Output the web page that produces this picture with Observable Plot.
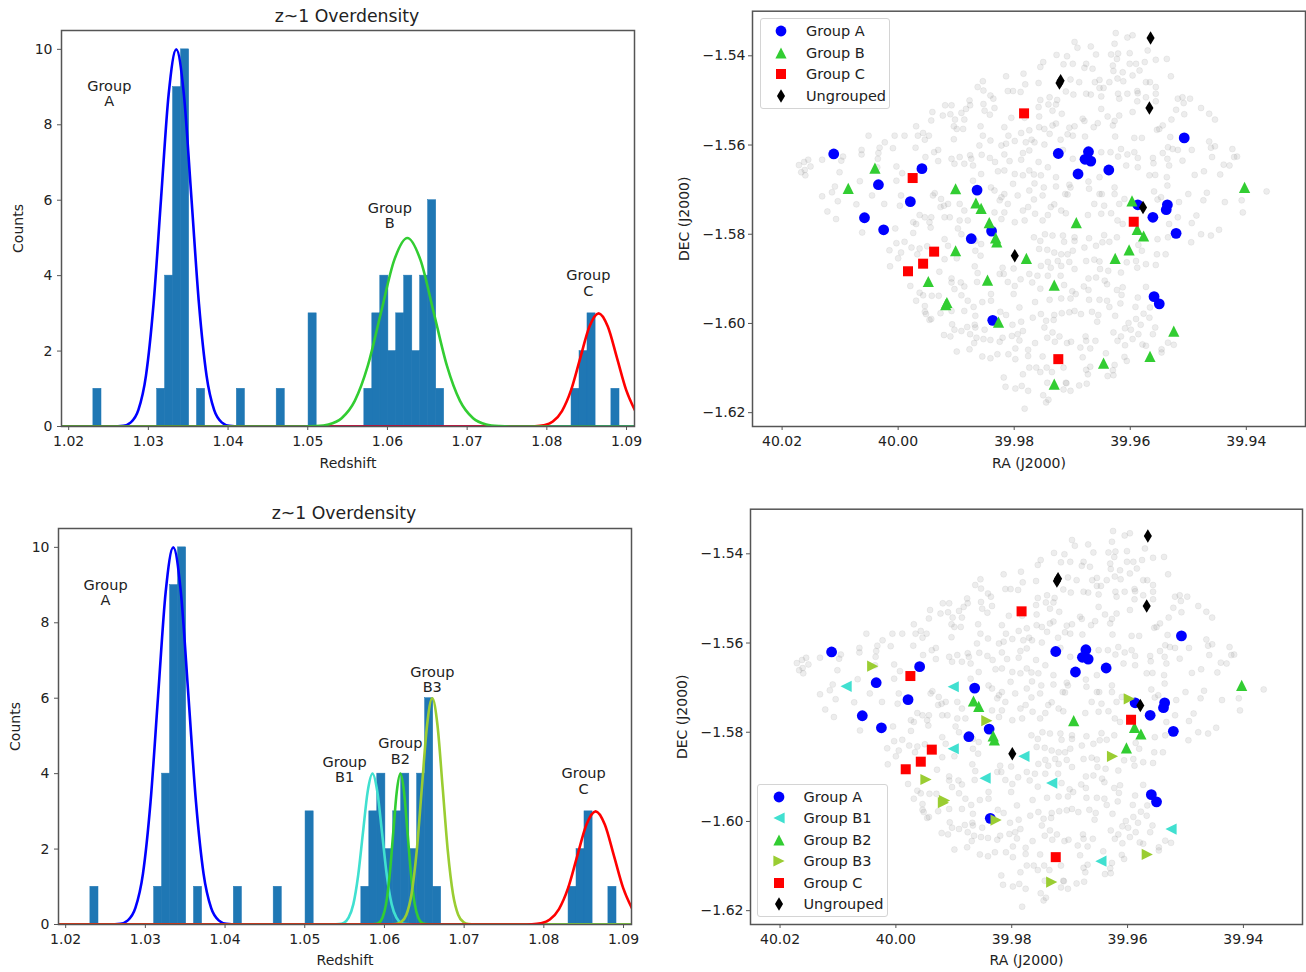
<!DOCTYPE html>
<html><head><meta charset="utf-8">
<script src="https://cdn.jsdelivr.net/npm/d3@7"></script>
<script src="https://cdn.jsdelivr.net/npm/@observablehq/plot@0.6"></script>
<style>
html,body{margin:0;padding:0;background:#fff}
#page{position:relative;width:1306px;height:972px;overflow:hidden;font-family:"DejaVu Sans",sans-serif;color:#222}
#page>svg,.abs{position:absolute}
.title{font-size:17.3px;transform:translate(-50%,-50%);white-space:nowrap}
.legend{background:rgba(255,255,255,.85);border:1px solid #d4d4d4;border-radius:3px;box-sizing:border-box}
.legend div{position:absolute;font-size:14.5px;line-height:1;white-space:nowrap;transform:translateY(-50%)}
.legend svg{position:absolute;overflow:visible;width:1px;height:1px}
</style></head><body><div id="page"></div>
<script>
// Histogram of redshifts
const binStarts=[1.0231,1.0311,1.0321,1.0331,1.0341,1.0361,1.0411,1.0461,1.0501,1.0571,1.0581,1.0591,1.0601,1.0611,1.0621,1.0631,1.0641,1.0651,1.0661,1.0831,1.0841,1.0851,1.0881];
const binCounts=[1,1,4,9,10,1,1,1,3,1,3,4,2,3,4,2,4,6,1,1,2,3,1];
const binWidth=0.00102;
const zTicks=[1.02,1.03,1.04,1.05,1.06,1.07,1.08,1.09];
const countTicks=[0,2,4,6,8,10];
// Fitted curves
const curveAx=[1.0191,1.0255,1.02685,1.0278,1.02875,1.0297,1.03065,1.0316,1.03255,1.0335,1.03445,1.0354,1.03635,1.0373,1.03825,1.0392,1.04015,1.0415,1.091];
const curveAy=[0,0,.02,.11,.44,1.35,3.25,6.07,8.82,10,8.82,6.07,3.25,1.35,.44,.11,.02,0,0];
const curveBx=[1.0191,1.0496,1.05095,1.0526,1.05425,1.0559,1.05755,1.0592,1.06085,1.0625,1.06415,1.0658,1.06745,1.0691,1.07075,1.0724,1.07405,1.0754,1.091];
const curveBy=[0,0,.01,.055,.22,.68,1.62,3.03,4.41,5,4.41,3.03,1.62,.68,.22,.055,.01,0,0];
const curveCx=[1.0191,1.0772,1.0785,1.0796,1.08075,1.0819,1.08305,1.0842,1.08535,1.0865,1.08765,1.0888,1.08995,1.0911];
const curveCy=[0,0,.007,.033,.13,.41,.97,1.82,2.65,3,2.65,1.82,.97,.41];
const curveB1x=[1.0191,1.0535,1.0543,1.0549,1.0555,1.0561,1.0567,1.0573,1.0579,1.0585,1.0591,1.0597,1.0603,1.0609,1.0615,1.0621,1.0627,1.0635,1.091];
const curveB1y=[0,0,.009,.044,.18,.54,1.3,2.43,3.53,4,3.53,2.43,1.3,.54,.18,.044,.009,0,0];
const curveB2x=[1.0191,1.0582,1.05885,1.0593,1.05975,1.0602,1.06065,1.0611,1.06155,1.062,1.06245,1.0629,1.06335,1.0638,1.06425,1.0647,1.06515,1.0658,1.091];
const curveB2y=[0,0,.009,.044,.18,.54,1.3,2.43,3.53,4,3.53,2.43,1.3,.54,.18,.044,.009,0,0];
const curveB3x=[1.0191,1.0607,1.06145,1.0621,1.06275,1.0634,1.06405,1.0647,1.06535,1.066,1.06665,1.0673,1.06795,1.0686,1.06925,1.0699,1.07055,1.0714,1.091];
const curveB3y=[0,0,.013,.067,.26,.81,1.95,3.64,5.29,6,5.29,3.64,1.95,.81,.26,.067,.013,0,0];
// Group labels on the histograms
const labelsTop=[["Group\nA",1.0251,8.82],["Group\nB",1.0603,5.6],["Group\nC",1.0852,3.8]];
const labelsBottom=[["Group\nA",1.025,8.81],["Group\nB1",1.055,4.1],["Group\nB2",1.062,4.6],["Group\nB3",1.066,6.5],["Group\nC",1.085,3.8]];
// Sky positions [RA, DEC]
const groupA=[[40.0111,-1.5620],[40.0034,-1.5689],[39.9979,-1.5727],[39.9959,-1.5653],[40.0058,-1.5763],[40.0025,-1.5790],[39.9864,-1.5701],[39.9874,-1.5810],[39.9839,-1.5793],[39.9837,-1.5993],[39.9724,-1.5619],[39.9672,-1.5615],[39.9678,-1.5632],[39.9668,-1.5636],[39.9690,-1.5665],[39.9637,-1.5656],[39.9587,-1.5734],[39.9561,-1.5762],[39.9536,-1.5734],[39.9538,-1.5745],[39.9521,-1.5798],[39.9507,-1.5584],[39.9559,-1.5940],[39.9550,-1.5956]];
const groupB1=[[40.0086,-1.5697],[39.9901,-1.5698],[39.9901,-1.5837],[39.9779,-1.5854],[39.9846,-1.5903],[39.9731,-1.5914],[39.9646,-1.6089],[39.9525,-1.6017]];
const groupB2=[[39.9866,-1.5730],[39.9857,-1.5742],[39.9832,-1.5808],[39.9830,-1.5817],[39.9693,-1.5774],[39.9602,-1.5835],[39.9588,-1.5789],[39.9577,-1.5804],[39.9403,-1.5695]];
const groupB3=[[40.0040,-1.5652],[39.9843,-1.5774],[39.9948,-1.5906],[39.9916,-1.5953],[39.9918,-1.5958],[39.9827,-1.5997],[39.9731,-1.6136],[39.9566,-1.6074],[39.9626,-1.5854],[39.9597,-1.5725]];
const groupC=[[39.9783,-1.5529],[39.9975,-1.5674],[39.9938,-1.5839],[39.9957,-1.5866],[39.9983,-1.5883],[39.9594,-1.5772],[39.9724,-1.6080]];
const ungrouped=[[39.9565,-1.5360],[39.9722,-1.5461],[39.9720,-1.5456],[39.9567,-1.5517],[39.9578,-1.5740],[39.9799,-1.5848]];
const bgNW=[[39.9814,-1.5446],[39.9784,-1.5440],[39.9781,-1.5464],[39.9854,-1.5457],[39.9863,-1.5470],[39.9853,-1.5478],[39.9811,-1.5479],[39.9802,-1.5479],[39.9789,-1.5481],[39.9841,-1.5489],[39.9836,-1.5496],[39.9853,-1.5508],[39.9834,-1.5517],[39.9851,-1.5523],[39.9842,-1.5532],[39.9877,-1.5500],[39.9876,-1.5511],[39.9883,-1.5519],[39.9891,-1.5528],[39.9919,-1.5511],[39.9908,-1.5511],[39.9941,-1.5526],[39.9923,-1.5534],[39.9910,-1.5531],[39.9902,-1.5543],[39.9886,-1.5543],[39.9943,-1.5545],[39.9969,-1.5558],[39.9904,-1.5558],[39.9899,-1.5564],[39.9888,-1.5564],[39.9858,-1.5558],[39.9817,-1.5560],[39.9805,-1.5539],[39.9782,-1.5539],[40.0006,-1.5579],[39.9989,-1.5579],[39.9957,-1.5573],[39.9966,-1.5579],[39.9947,-1.5579],[40.0051,-1.5579],[39.9954,-1.5588],[39.9904,-1.5587],[39.9854,-1.5579],[39.9841,-1.5590],[39.9810,-1.5579],[39.9788,-1.5573],[39.9774,-1.5567],[40.0023,-1.5594],[40.0032,-1.5606],[40.0009,-1.5607],[39.9970,-1.5606],[39.9860,-1.5601],[39.9822,-1.5601],[39.9814,-1.5597],[39.9799,-1.5591],[39.9780,-1.5594],[40.0063,-1.5611],[40.0034,-1.5618],[39.9931,-1.5611],[39.9938,-1.5616],[40.0063,-1.5621],[39.9876,-1.5623],[39.9856,-1.5622],[39.9817,-1.5621],[39.9785,-1.5618],[39.9774,-1.5612],[40.0035,-1.5631],[39.9953,-1.5627],[39.9908,-1.5631],[39.9894,-1.5627],[39.9874,-1.5631],[39.9842,-1.5629],[39.9833,-1.5638],[39.9808,-1.5636],[39.9788,-1.5633],[40.0155,-1.5633],[40.0162,-1.5638],[40.0131,-1.5633],[40.0098,-1.5635],[40.0095,-1.5626],[40.0171,-1.5645],[40.0151,-1.5648],[40.0161,-1.5656],[40.0167,-1.5661],[40.0160,-1.5668],[40.0101,-1.5661],[40.0036,-1.5650],[40.0003,-1.5648],[39.9993,-1.5663],[39.9931,-1.5636],[39.9903,-1.5642],[39.9886,-1.5642],[39.9871,-1.5646],[39.9857,-1.5665],[39.9828,-1.5659],[39.9817,-1.5657],[39.9799,-1.5665],[39.9785,-1.5668],[39.9774,-1.5657],[40.0066,-1.5681],[40.0109,-1.5693],[40.0114,-1.5706],[40.0131,-1.5715],[40.0104,-1.5726],[40.0122,-1.5749],[40.0072,-1.5733],[40.0107,-1.5766],[40.0045,-1.5713],[40.0024,-1.5732],[40.0003,-1.5680],[39.9995,-1.5713],[39.9997,-1.5736],[39.9937,-1.5708],[39.9940,-1.5713],[39.9926,-1.5721],[39.9921,-1.5736],[39.9927,-1.5739],[39.9963,-1.5757],[39.9954,-1.5762],[39.9946,-1.5773],[39.9974,-1.5773],[39.9969,-1.5777],[39.9943,-1.5762],[39.9920,-1.5762],[39.9911,-1.5762],[39.9894,-1.5732],[39.9886,-1.5747],[39.9894,-1.5769],[39.9880,-1.5769],[39.9834,-1.5702],[39.9817,-1.5710],[39.9802,-1.5687],[39.9794,-1.5713],[39.9811,-1.5732],[39.9825,-1.5724],[39.9822,-1.5717],[39.9785,-1.5747],[39.9776,-1.5739],[39.9782,-1.5769],[39.9817,-1.5751],[39.9822,-1.5766],[39.9834,-1.5751],[39.9799,-1.5773],[39.9774,-1.5702],[39.9871,-1.5680],[39.9840,-1.5695],[39.9914,-1.5732]];
const bgNE=[[39.9625,-1.5349],[39.9596,-1.5354],[39.9605,-1.5359],[39.9696,-1.5369],[39.9691,-1.5382],[39.9668,-1.5379],[39.9659,-1.5397],[39.9727,-1.5398],[39.9709,-1.5401],[39.9627,-1.5373],[39.9621,-1.5395],[39.9623,-1.5407],[39.9570,-1.5388],[39.9601,-1.5394],[39.9633,-1.5397],[39.9556,-1.5409],[39.9537,-1.5407],[39.9575,-1.5414],[39.9630,-1.5422],[39.9590,-1.5418],[39.9601,-1.5418],[39.9699,-1.5418],[39.9715,-1.5419],[39.9676,-1.5418],[39.9679,-1.5427],[39.9665,-1.5429],[39.9750,-1.5414],[39.9755,-1.5425],[39.9629,-1.5434],[39.9613,-1.5437],[39.9584,-1.5433],[39.9596,-1.5444],[39.9530,-1.5446],[39.9758,-1.5461],[39.9703,-1.5453],[39.9688,-1.5459],[39.9653,-1.5454],[39.9661,-1.5459],[39.9622,-1.5451],[39.9612,-1.5457],[39.9573,-1.5459],[39.9566,-1.5459],[39.9653,-1.5472],[39.9646,-1.5472],[39.9636,-1.5459],[39.9556,-1.5470],[39.9588,-1.5479],[39.9698,-1.5487],[39.9676,-1.5485],[39.9668,-1.5487],[39.9650,-1.5491],[39.9711,-1.5480],[39.9621,-1.5485],[39.9619,-1.5496],[39.9605,-1.5485],[39.9587,-1.5484],[39.9573,-1.5493],[39.9556,-1.5502],[39.9556,-1.5485],[39.9755,-1.5499],[39.9739,-1.5493],[39.9726,-1.5499],[39.9758,-1.5515],[39.9741,-1.5509],[39.9728,-1.5509],[39.9588,-1.5502],[39.9518,-1.5496],[39.9510,-1.5493],[39.9497,-1.5496],[39.9508,-1.5506],[39.9757,-1.5536],[39.9734,-1.5523],[39.9718,-1.5530],[39.9650,-1.5519],[39.9596,-1.5526],[39.9521,-1.5521],[39.9478,-1.5517],[39.9464,-1.5530],[39.9454,-1.5543],[39.9507,-1.5531],[39.9529,-1.5543],[39.9682,-1.5541],[39.9679,-1.5546],[39.9619,-1.5534],[39.9627,-1.5546],[39.9630,-1.5556],[39.9639,-1.5536],[39.9656,-1.5551],[39.9663,-1.5560],[39.9696,-1.5558],[39.9705,-1.5561],[39.9728,-1.5552],[39.9734,-1.5556],[39.9748,-1.5564],[39.9757,-1.5560],[39.9739,-1.5575],[39.9708,-1.5576],[39.9699,-1.5579],[39.9678,-1.5581],[39.9626,-1.5581],[39.9593,-1.5584],[39.9580,-1.5584],[39.9550,-1.5564],[39.9544,-1.5556],[39.9554,-1.5566],[39.9770,-1.5588],[39.9765,-1.5594],[39.9748,-1.5599],[39.9720,-1.5588],[39.9716,-1.5611],[39.9531,-1.5582],[39.9464,-1.5592],[39.9535,-1.5605],[39.9527,-1.5609],[39.9518,-1.5611],[39.9494,-1.5611],[39.9461,-1.5606],[39.9454,-1.5603],[39.9424,-1.5609],[39.9616,-1.5609],[39.9621,-1.5626],[39.9605,-1.5621],[39.9593,-1.5616],[39.9587,-1.5629],[39.9634,-1.5616],[39.9650,-1.5616],[39.9544,-1.5618],[39.9561,-1.5629],[39.9560,-1.5641],[39.9536,-1.5631],[39.9510,-1.5635],[39.9459,-1.5627],[39.9421,-1.5627],[39.9416,-1.5626],[39.9758,-1.5638],[39.9742,-1.5650],[39.9699,-1.5631],[39.9587,-1.5650],[39.9607,-1.5646],[39.9533,-1.5646],[39.9439,-1.5644],[39.9429,-1.5646],[39.9766,-1.5666],[39.9754,-1.5668],[39.9728,-1.5672],[39.9557,-1.5667],[39.9567,-1.5668],[39.9537,-1.5672],[39.9489,-1.5667],[39.9473,-1.5659],[39.9445,-1.5666],[39.9749,-1.5695],[39.9728,-1.5693],[39.9705,-1.5689],[39.9703,-1.5695],[39.9672,-1.5682],[39.9653,-1.5672],[39.9627,-1.5695],[39.9765,-1.5686],[39.9653,-1.5710],[39.9649,-1.5710],[39.9627,-1.5710],[39.9671,-1.5698],[39.9712,-1.5710],[39.9708,-1.5711],[39.9559,-1.5704],[39.9547,-1.5717],[39.9536,-1.5691],[39.9500,-1.5710],[39.9468,-1.5707],[39.9766,-1.5722],[39.9751,-1.5713],[39.9731,-1.5733],[39.9737,-1.5739],[39.9719,-1.5747],[39.9711,-1.5753],[39.9751,-1.5769],[39.9764,-1.5754],[39.9742,-1.5757],[39.9662,-1.5732],[39.9633,-1.5753],[39.9673,-1.5757],[39.9650,-1.5754],[39.9645,-1.5736],[39.9622,-1.5769],[39.9619,-1.5732],[39.9610,-1.5721],[39.9553,-1.5722],[39.9516,-1.5728],[39.9486,-1.5758],[39.9474,-1.5724],[39.9437,-1.5728],[39.9408,-1.5724],[39.9406,-1.5751],[39.9365,-1.5704],[39.9533,-1.5777],[39.9494,-1.5775],[39.9518,-1.5762],[39.9613,-1.5777]];
const bgSW=[[40.0062,-1.5796],[40.0005,-1.5787],[39.9974,-1.5797],[39.9944,-1.5785],[39.9897,-1.5787],[39.9891,-1.5800],[39.9920,-1.5811],[39.9914,-1.5826],[40.0003,-1.5820],[39.9989,-1.5817],[39.9977,-1.5830],[39.9963,-1.5832],[40.0015,-1.5836],[39.9995,-1.5841],[40.0000,-1.5854],[39.9967,-1.5845],[39.9950,-1.5827],[39.9920,-1.5856],[39.9899,-1.5854],[39.9867,-1.5815],[39.9857,-1.5822],[39.9867,-1.5837],[39.9858,-1.5848],[39.9868,-1.5872],[39.9863,-1.5887],[39.9825,-1.5889],[39.9818,-1.5889],[39.9820,-1.5875],[39.9801,-1.5877],[39.9929,-1.5884],[40.0014,-1.5872],[39.9979,-1.5916],[39.9963,-1.5931],[39.9957,-1.5937],[39.9969,-1.5949],[39.9942,-1.5938],[39.9930,-1.5938],[39.9908,-1.5899],[39.9908,-1.5908],[39.9892,-1.5908],[39.9886,-1.5917],[39.9903,-1.5923],[39.9891,-1.5937],[39.9880,-1.5949],[39.9855,-1.5952],[39.9840,-1.5934],[39.9840,-1.5949],[39.9864,-1.5907],[39.9811,-1.5907],[39.9799,-1.5916],[39.9789,-1.5901],[39.9774,-1.5889],[39.9801,-1.5934],[39.9954,-1.5961],[39.9954,-1.5974],[39.9952,-1.5979],[39.9943,-1.5990],[39.9946,-1.5992],[39.9927,-1.5977],[39.9908,-1.5972],[39.9886,-1.5972],[39.9870,-1.5963],[39.9867,-1.5983],[39.9814,-1.5981],[39.9824,-1.5974],[39.9791,-1.5964],[39.9788,-1.5996],[39.9907,-1.6002],[39.9903,-1.6014],[39.9891,-1.6017],[39.9881,-1.6008],[39.9868,-1.6003],[39.9867,-1.6009],[39.9851,-1.6014],[39.9876,-1.6024],[39.9921,-1.6026],[39.9910,-1.6029],[39.9803,-1.6003],[39.9785,-1.6017],[39.9794,-1.6024],[39.9804,-1.6028],[39.9865,-1.6032],[39.9853,-1.6035],[39.9841,-1.6037],[39.9825,-1.6041],[39.9820,-1.6032],[39.9791,-1.6038],[39.9869,-1.6044],[39.9877,-1.6058],[39.9899,-1.6063],[39.9798,-1.6056],[39.9776,-1.6059],[39.9855,-1.6074],[39.9841,-1.6078],[39.9829,-1.6069],[39.9810,-1.6069],[39.9798,-1.6080],[39.9776,-1.6073],[39.9785,-1.6114],[39.9774,-1.6099],[39.9818,-1.6121],[39.9815,-1.6142],[39.9798,-1.6146],[39.9787,-1.6140],[39.9776,-1.6151],[39.9782,-1.6191]];
const bgSE=[[39.9766,-1.5807],[39.9755,-1.5815],[39.9747,-1.5800],[39.9734,-1.5803],[39.9716,-1.5803],[39.9714,-1.5817],[39.9696,-1.5807],[39.9696,-1.5815],[39.9671,-1.5809],[39.9645,-1.5802],[39.9623,-1.5807],[39.9636,-1.5817],[39.9648,-1.5818],[39.9659,-1.5826],[39.9679,-1.5830],[39.9699,-1.5837],[39.9708,-1.5845],[39.9719,-1.5845],[39.9731,-1.5841],[39.9743,-1.5835],[39.9757,-1.5833],[39.9553,-1.5811],[39.9535,-1.5807],[39.9495,-1.5818],[39.9478,-1.5800],[39.9461,-1.5803],[39.9447,-1.5790],[39.9586,-1.5824],[39.9580,-1.5837],[39.9554,-1.5845],[39.9539,-1.5845],[39.9676,-1.5860],[39.9662,-1.5857],[39.9653,-1.5861],[39.9705,-1.5862],[39.9725,-1.5860],[39.9742,-1.5862],[39.9754,-1.5871],[39.9737,-1.5875],[39.9719,-1.5871],[39.9696,-1.5878],[39.9638,-1.5882],[39.9652,-1.5878],[39.9616,-1.5886],[39.9590,-1.5860],[39.9573,-1.5867],[39.9556,-1.5869],[39.9588,-1.5875],[39.9606,-1.5863],[39.9760,-1.5893],[39.9720,-1.5893],[39.9742,-1.5893],[39.9769,-1.5908],[39.9755,-1.5922],[39.9714,-1.5914],[39.9700,-1.5928],[39.9694,-1.5934],[39.9680,-1.5917],[39.9672,-1.5899],[39.9659,-1.5897],[39.9644,-1.5904],[39.9640,-1.5912],[39.9672,-1.5925],[39.9623,-1.5925],[39.9613,-1.5919],[39.9615,-1.5936],[39.9573,-1.5918],[39.9764,-1.5952],[39.9739,-1.5947],[39.9719,-1.5944],[39.9703,-1.5944],[39.9671,-1.5947],[39.9653,-1.5947],[39.9640,-1.5949],[39.9636,-1.5963],[39.9617,-1.5955],[39.9587,-1.5942],[39.9591,-1.5963],[39.9566,-1.5964],[39.9705,-1.5975],[39.9696,-1.5972],[39.9685,-1.5979],[39.9718,-1.5977],[39.9731,-1.5981],[39.9732,-1.5992],[39.9754,-1.5979],[39.9768,-1.5987],[39.9745,-1.5994],[39.9748,-1.6009],[39.9666,-1.5974],[39.9655,-1.5981],[39.9657,-1.5996],[39.9626,-1.5983],[39.9577,-1.5978],[39.9567,-1.5987],[39.9590,-1.5990],[39.9603,-1.5999],[39.9582,-1.6003],[39.9609,-1.6011],[39.9599,-1.6014],[39.9557,-1.6009],[39.9561,-1.6024],[39.9586,-1.6024],[39.9629,-1.6020],[39.9616,-1.6029],[39.9622,-1.6039],[39.9596,-1.6035],[39.9609,-1.6049],[39.9573,-1.6050],[39.9579,-1.6047],[39.9734,-1.6020],[39.9722,-1.6029],[39.9743,-1.6032],[39.9730,-1.6041],[39.9709,-1.6044],[39.9702,-1.6041],[39.9764,-1.6044],[39.9677,-1.6029],[39.9676,-1.6039],[39.9660,-1.6039],[39.9686,-1.6054],[39.9669,-1.6056],[39.9642,-1.6067],[39.9682,-1.6076],[39.9751,-1.6074],[39.9535,-1.6043],[39.9525,-1.6048],[39.9546,-1.6058],[39.9546,-1.6065],[39.9627,-1.6093],[39.9610,-1.6075],[39.9606,-1.6084],[39.9762,-1.6099],[39.9744,-1.6099],[39.9715,-1.6099],[39.9755,-1.6109],[39.9735,-1.6109],[39.9676,-1.6104],[39.9669,-1.6097],[39.9673,-1.6114],[39.9639,-1.6118],[39.9630,-1.6105],[39.9629,-1.6116],[39.9711,-1.6133],[39.9688,-1.6139],[39.9675,-1.6135],[39.9715,-1.6148],[39.9703,-1.6151],[39.9710,-1.6134],[39.9743,-1.6133],[39.9750,-1.6161],[39.9741,-1.6171],[39.9745,-1.6177]];
const raTicks=[40.02,40.00,39.98,39.96,39.94];
const decTicks=[-1.54,-1.56,-1.58,-1.60,-1.62];

const background=[...bgNW,...bgNE,...bgSW,...bgSE];
const page=document.getElementById("page");
const ink="#222", frameInk="#555";
const sym=f=>({draw(c,size){f(c,Math.sqrt(size/Math.PI));}});
const poly=(c,pts)=>{pts.forEach(([x,y],i)=>i?c.lineTo(x,y):c.moveTo(x,y));c.closePath();};
const symbols={
  circle:sym((c,s)=>{c.moveTo(s,0);c.arc(0,0,s,0,2*Math.PI);}),
  up:sym((c,s)=>poly(c,[[0,-s],[s,s],[-s,s]])),
  left:sym((c,s)=>poly(c,[[-s,0],[s,-s],[s,s]])),
  right:sym((c,s)=>poly(c,[[s,0],[-s,-s],[-s,s]])),
  square:sym((c,s)=>poly(c,[[-s,-s],[s,-s],[s,s],[-s,s]])),
  thin:sym((c,s)=>poly(c,[[0,-1.25*s],[.75*s,0],[0,1.25*s],[-.75*s,0]]))
};
const base={fontFamily:"DejaVu Sans",fontSize:"14px",background:"transparent",color:ink,overflow:"visible"};
function place(svg,left,top){svg.style.left=left+"px";svg.style.top=top+"px";svg.style.maxWidth="none";page.appendChild(svg);}
const row=(xs,ys)=>xs.map((x,i)=>({x,y:ys[i]}));

function histogram(left,top,w,h,m,curves,labels){
  const bars=binStarts.map((s,i)=>({x1:s,x2:s+binWidth,y:binCounts[i]}));
  const svg=Plot.plot({width:w,height:h,marginLeft:m[0],marginRight:m[1],marginTop:m[2],marginBottom:m[3],style:base,
    x:{domain:[1.0191,1.091]},y:{domain:[0,10.5]},
    marks:[
      Plot.rectY(bars,{x1:"x1",x2:"x2",y:"y",fill:"#1f77b4",stroke:"#1f77b4",strokeWidth:.5}),
      ...curves.map(([xs,ys,color])=>Plot.line(row(xs,ys),{x:"x",y:"y",stroke:color,strokeWidth:2.6,curve:"monotone-x",clip:true})),
      Plot.text(labels,{x:d=>d[1],y:d=>d[2],text:d=>d[0],fill:ink,lineHeight:1.05,fontSize:14.5}),
      Plot.frame({stroke:frameInk,strokeWidth:1.5}),
      Plot.axisX({ticks:zTicks,tickFormat:d3.format(".2f"),label:"Redshift",labelAnchor:"center",labelArrow:"none",labelOffset:m[4],tickSize:4,tickPadding:6,stroke:frameInk,fill:ink}),
      Plot.axisY({ticks:countTicks,label:"Counts",labelAnchor:"center",labelArrow:"none",labelOffset:48,tickSize:4,tickPadding:5,stroke:frameInk,fill:ink})
    ]});
  place(svg,left,top);
}
function sky(left,top,w,h,m,groups){
  const pts=a=>a.map(([ra,dec])=>({ra,dec}));
  const svg=Plot.plot({width:w,height:h,marginLeft:m[0],marginRight:m[1],marginTop:m[2],marginBottom:m[3],style:base,
    x:{domain:[40.0251,39.9298]},y:{domain:[-1.6231,-1.5300]},
    marks:[
      Plot.dot(pts(background),{x:"ra",y:"dec",r:3,fill:"#777",fillOpacity:.13,stroke:"#777",strokeOpacity:.12,strokeWidth:.8}),
      ...groups.map(g=>Plot.dot(pts(g.data),{x:"ra",y:"dec",r:g.r,symbol:symbols[g.sym],fill:g.color,stroke:"none"})),
      Plot.frame({stroke:frameInk,strokeWidth:1.5}),
      Plot.axisX({ticks:raTicks,tickFormat:d3.format(".2f"),label:"RA (J2000)",labelAnchor:"center",labelArrow:"none",labelOffset:m[4],tickSize:4,tickPadding:6,stroke:frameInk,fill:ink}),
      Plot.axisY({ticks:decTicks,tickFormat:d3.format(".2f"),label:"DEC (J2000)",labelAnchor:"center",labelArrow:"none",labelOffset:73,tickSize:4,tickPadding:3,stroke:frameInk,fill:ink})
    ]});
  place(svg,left,top);
}
function title(text,x,y){const d=document.createElement("div");d.className="abs title";d.textContent=text;d.style.left=x+"px";d.style.top=y+"px";page.appendChild(d);}
function legend(left,top,w,h,markX,textX,firstY,gap,groups){
  const box=document.createElement("div");box.className="abs legend";
  Object.assign(box.style,{left:left+"px",top:top+"px",width:w+"px",height:h+"px"});
  groups.forEach((g,i)=>{
    const y=firstY+gap*i;
    const p=d3.path();symbols[g.sym].draw(p,Math.PI*g.r*g.r);
    const s=document.createElementNS("http://www.w3.org/2000/svg","svg");
    s.style.left=markX+"px";s.style.top=y+"px";
    const path=document.createElementNS("http://www.w3.org/2000/svg","path");
    path.setAttribute("d",p.toString());path.setAttribute("fill",g.color);s.appendChild(path);box.appendChild(s);
    const t=document.createElement("div");t.textContent=g.name;t.style.left=textX+"px";t.style.top=y+"px";box.appendChild(t);
  });
  page.appendChild(box);
}
const gA={name:"Group A",data:groupA,sym:"circle",color:"#0000ff",r:5.4};
const gB={name:"Group B",data:[...groupB1,...groupB2,...groupB3],sym:"up",color:"#32cd32",r:5.6};
const gC={name:"Group C",data:groupC,sym:"square",color:"#ff0000",r:5};
const gU={name:"Ungrouped",data:ungrouped,sym:"thin",color:"#000",r:5.4};
const gB1={name:"Group B1",data:groupB1,sym:"left",color:"#40e0d0",r:5.6};
const gB2={name:"Group B2",data:groupB2,sym:"up",color:"#32cd32",r:5.6};
const gB3={name:"Group B3",data:groupB3,sym:"right",color:"#9acd32",r:5.6};

histogram(0,0,650,480,[61,16,30,54,41],
  [[curveAx,curveAy,"#0000ff"],[curveCx,curveCy,"#ff0000"],[curveBx,curveBy,"#32cd32"]],labelsTop);
histogram(0,498,650,474,[58,19,30,48,40],
  [[curveAx,curveAy,"#0000ff"],[curveB1x,curveB1y,"#40e0d0"],[curveB2x,curveB2y,"#32cd32"],[curveB3x,curveB3y,"#9acd32"],[curveCx,curveCy,"#ff0000"]],labelsBottom);
sky(660,0,646,480,[92,1,10.7,54,41],[gA,gB,gC,gU]);
sky(657,497.5,649,474.5,[93,4,10.7,48.5,40],[gA,gB1,gB2,gB3,gC,gU]);
title("z~1 Overdensity",347,16);
title("z~1 Overdensity",344,513);
legend(760,18,130,91,19.5,45,12,21.6,[gA,gB,gC,gU]);
legend(757,784,131,133,20.5,45.5,12,21.4,[gA,gB1,gB2,gB3,gC,gU]);
</script></body></html>
